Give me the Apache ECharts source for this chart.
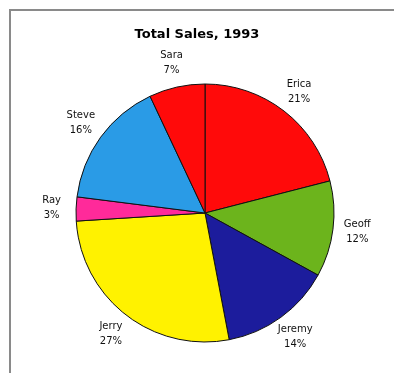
<!DOCTYPE html>
<html>
<head>
<meta charset="utf-8">
<style>
  html, body { margin: 0; padding: 0; background: #ffffff; }
  #chart { width: 394px; height: 373px; }
</style>
<script src="https://cdn.jsdelivr.net/npm/echarts@6/dist/echarts.min.js"></script>
</head>
<body>
<div id="chart"></div>
<script>
// Sales share per person, clockwise from twelve o'clock
const people = ['Erica', 'Geoff', 'Jeremy', 'Jerry', 'Ray', 'Steve', 'Sara'];
const sharePct = [21, 12, 14, 27, 3, 16, 7];
const sliceColors = ['#ff0a0a', '#6cb41c', '#1c1c9c', '#fff200', '#ff2a9a', '#2a9be6', '#ff0a0a'];

const pieData = people.map((name, i) => ({
  name: name,
  value: sharePct[i],
  itemStyle: { color: sliceColors[i] }
}));

const chart = echarts.init(document.getElementById('chart'), null, { renderer: 'canvas' });

chart.setOption({
  backgroundColor: '#ffffff',
  animation: false,
  title: {
    text: 'Total Sales, 1993',
    left: 'center',
    top: 23,
    textStyle: {
      fontFamily: 'DejaVu Sans',
      fontWeight: 'bold',
      fontSize: 13,
      color: '#000000'
    }
  },
  graphic: [{
    type: 'polyline',
    shape: { points: [[10, 373], [10, 10], [394, 10]] },
    style: { stroke: '#8a8a8a', lineWidth: 2, fill: null }
  }],
  series: [
    {
      // the pie itself
      type: 'pie',
      center: [205, 213],
      radius: 129,
      startAngle: 90,
      clockwise: true,
      silent: true,
      label: { show: false },
      labelLine: { show: false },
      itemStyle: { borderColor: '#111111', borderWidth: 1 },
      data: pieData
    },
    {
      // transparent ring just outside the pie that carries the name / percent labels
      type: 'pie',
      center: [205, 213],
      radius: [130, 171],
      startAngle: 90,
      clockwise: true,
      silent: true,
      itemStyle: { color: 'rgba(0,0,0,0)', borderWidth: 0 },
      label: {
        show: true,
        position: 'inside',
        formatter: p => p.name + '\n' + p.value + '%',
        fontFamily: 'DejaVu Sans',
        fontSize: 10,
        lineHeight: 15,
        color: '#111111',
        align: 'center'
      },
      labelLine: { show: false },
      data: people.map((name, i) => ({ name: name, value: sharePct[i] }))
    }
  ]
});
</script>
</body>
</html>
